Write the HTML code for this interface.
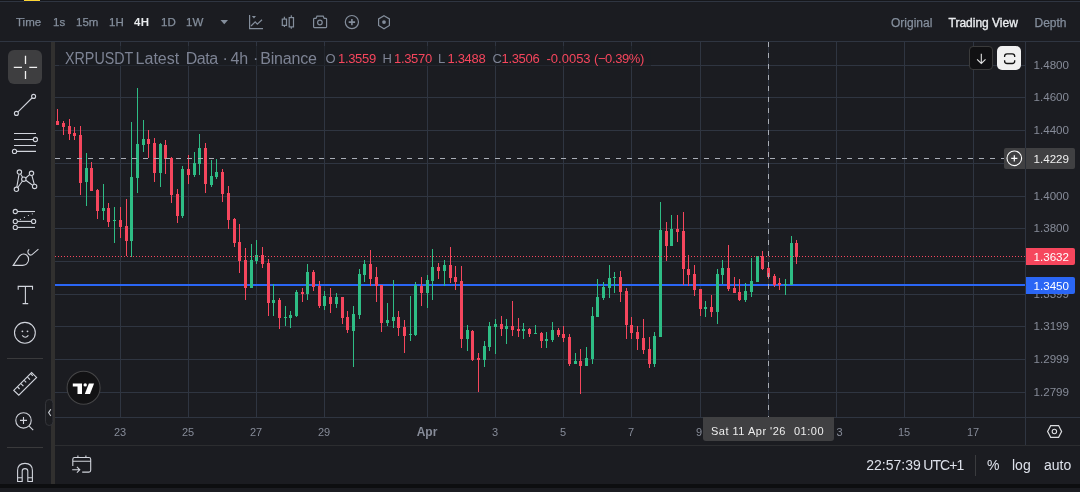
<!DOCTYPE html>
<html><head><meta charset="utf-8"><style>
*{margin:0;padding:0;box-sizing:border-box}
html,body{width:1080px;height:492px;overflow:hidden;background:#1b1c21}
body{position:relative;font-family:"Liberation Sans",sans-serif}
.abs{position:absolute}
.tb{position:absolute;top:15px;font-size:11.5px;color:#848e9c;line-height:14px;white-space:nowrap;-webkit-text-stroke:0.25px #848e9c}
.pl{position:absolute;left:1026px;width:50px;text-align:right;padding-right:11px;width:54px;font-size:11.6px;line-height:16px;color:#868b98;letter-spacing:0px}
.lg{position:absolute;top:51px;font-size:13px;line-height:16px;letter-spacing:-0.33px;white-space:pre}
.tt{position:absolute;top:49px;font-size:16px;line-height:20px;color:#7d8394;white-space:nowrap}
.bt{position:absolute;top:457px;font-size:14px;line-height:16px;color:#dde1ea;white-space:nowrap}
.tl{position:absolute;top:424px;width:60px;text-align:center;font-size:11px;line-height:16px;color:#868b98}
.tl.b{font-weight:bold;font-size:12px}
</style></head><body>
<!-- top strip -->
<div class="abs" style="left:0;top:0;width:1080px;height:1px;background:#16171b"></div>
<div class="abs" style="left:0;top:1px;width:1080px;height:1px;background:#2f3541"></div>
<div class="abs" style="left:24px;top:0;width:16px;height:1px;background:#fcd535"></div>
<div class="abs" style="left:24px;top:1px;width:16px;height:1px;background:#1c2038"></div>
<!-- toolbar line -->
<div class="abs" style="left:0;top:41px;width:1080px;height:1px;background:#2f3541"></div>
<!-- toolbar texts -->
<div class="tb" style="left:16px">Time</div>
<div class="tb" style="left:53px">1s</div>
<div class="tb" style="left:76px">15m</div>
<div class="tb" style="left:109px">1H</div>
<div class="tb" style="left:134px;color:#eaecef;font-weight:bold;letter-spacing:0.4px;-webkit-text-stroke:0">4H</div>
<div class="tb" style="left:161px">1D</div>
<div class="tb" style="left:186px">1W</div>
<svg class="abs" style="left:0;top:0" width="400" height="41">
 <path d="M220.5 20 L228 20 L224.25 24.3 Z" fill="#848e9c"/>
 <g fill="none" stroke="#848e9c" stroke-width="1.2">
  <path d="M249.6 15 V28.6 H263"/>
  <path d="M251 26 L255.2 21.8 L257.3 24.2 L262 19.8"/>
  <rect x="282.3" y="19.1" width="4.2" height="6.3"/>
  <path d="M284.4 16.8 V19.1 M284.4 25.4 V27"/>
  <rect x="289.2" y="17.6" width="4.3" height="9.3"/>
  <path d="M291.3 15.3 V17.6 M291.3 26.9 V28.8"/>
  <path d="M313.6 19.2 Q313.6 18.4 314.4 18.4 H316 L317 16.2 H323.2 L324.2 18.4 H325.8 Q326.6 18.4 326.6 19.2 V26.8 Q326.6 27.6 325.8 27.6 H314.4 Q313.6 27.6 313.6 26.8 Z"/>
  <circle cx="319.9" cy="22.5" r="2.3"/>
  <circle cx="351.9" cy="22.1" r="6.6"/>
  <path d="M348.7 22.1 H355.1 M351.9 18.9 V25.3" stroke-width="1.6"/>
  <path d="M384 15.7 L389.4 18.9 V25.5 L384 28.7 L378.6 25.5 V18.9 Z"/>
 </g>
 <path d="M251.9 16.1 H256 L253.95 18.4 Z" fill="#848e9c"/>
 <circle cx="384" cy="22.1" r="1.9" fill="#848e9c"/>
</svg>
<div class="tb" style="left:891px;top:15.7px;font-size:12px">Original</div>
<div class="tb" style="left:948.5px;top:15.7px;font-size:12px;color:#eaecef;-webkit-text-stroke:0.35px #eaecef">Trading View</div>
<div class="tb" style="left:1034.5px;top:15.7px;font-size:12px">Depth</div>

<!-- left toolbar -->
<div class="abs" style="left:51px;top:42px;width:4px;height:442px;background:#31302f"></div>
<div class="abs" style="left:8px;top:50px;width:34px;height:34px;border-radius:6px;background:#3e3e40"></div>
<div class="abs" style="left:7px;top:358px;width:36px;height:1px;background:#3a3a3c"></div>
<div class="abs" style="left:7px;top:447px;width:36px;height:1px;background:#3a3a3c"></div>
<svg class="abs" style="left:0;top:0" width="55" height="492">
 <g fill="none" stroke="#d1d4dc" stroke-width="1.1">
  <path d="M25.5 55.8 V64 M25.5 71 V79 M13.8 67.4 H22 M29.3 67.4 H37.1" stroke="#f0f0f0" stroke-width="1.3"/>
  <circle cx="33.6" cy="96.4" r="2"/><circle cx="16.4" cy="113.4" r="2"/>
  <path d="M18 111.8 L32 98"/>
  <path d="M14 133.5 H36 M14 139.5 H33.3 M14 145.5 H36 M16.6 151.4 H36"/>
  <circle cx="35.4" cy="139.5" r="2.1"/><circle cx="14.5" cy="151.4" r="2.1"/>
  <circle cx="16.4" cy="189.3" r="2.2"/><circle cx="19.4" cy="172.1" r="2.2"/><circle cx="23.8" cy="179.2" r="2.2"/><circle cx="31.5" cy="173.3" r="2.2"/><circle cx="34.6" cy="186.4" r="2.2"/>
  <path d="M16.8 187.1 L19 174.3 M17.8 187.5 L22.5 181 M20.6 174 L22.6 177.3 M25.7 178 L29.6 174.6 M31.9 175.5 L34.2 184.2 M25.8 180.3 L32.6 185.2"/>
  <circle cx="15.3" cy="211.5" r="2.1"/><path d="M17.4 211.5 H35"/>
  <circle cx="15.3" cy="221.4" r="2.1"/><circle cx="33.6" cy="221.4" r="2.1"/><path d="M17.4 221.4 H31.5"/>
  <circle cx="15.3" cy="227.4" r="2.1"/><path d="M17.4 227.4 H35"/>
  <path d="M13.2 265.4 L19.4 256.2 Q22.8 252.6 26.6 255 Q29.4 257.4 28.2 261.4 Q26.8 265.2 22.6 265.4 Z"/>
  <path d="M29.2 249.4 Q27.2 251 28.2 253.4 Q29.6 255.8 31.8 254.8 L38.4 249.2"/>
  <path d="M18.2 289.8 V286.4 H32.5 V289.8 M25.4 286.4 V303.6 M22.6 303.6 H28.2"/>
  <circle cx="24.9" cy="332.8" r="10.4"/>
  <path d="M22.2 335.3 Q25.3 339.2 28.4 335.3"/>
  <path d="M13.8 390.4 L31.6 372.6 L36.6 377.4 L18.8 395.2 Z"/>
  <path d="M17.6 387 L19.6 389 M20.9 383.7 L23.4 386.2 M24.2 380.4 L26.2 382.4 M27.5 377.1 L30 379.6 M30.8 373.8 L32.8 375.8"/>
  <circle cx="23.5" cy="420.4" r="7.7"/>
  <path d="M20 420.4 H27 M23.5 416.9 V423.9 M29.2 426.2 L33.2 430.2"/>
  <path d="M17.6 481.5 V470.6 Q17.6 463.4 25 463.4 Q32.4 463.4 32.4 470.6 V481.5 H27.8 V471 Q27.8 468.6 25 468.6 Q22.2 468.6 22.2 471 V481.5 Z M17.6 477.8 H22.2 M27.8 477.8 H32.4"/>
 </g>
 <circle cx="22.4" cy="331.3" r="0.9" fill="#d1d4dc"/><circle cx="27.5" cy="331.3" r="0.9" fill="#d1d4dc"/>
 <g fill="#d1d4dc"><circle cx="20.4" cy="219.3" r="0.6"/><circle cx="24.4" cy="217.4" r="0.6"/><circle cx="28.4" cy="215.5" r="0.6"/><circle cx="32.3" cy="213.8" r="0.6"/></g>
 <rect x="45.5" y="399.5" width="7.5" height="26" rx="3.75" fill="#1c1d21" stroke="#34353a" stroke-width="1"/>
 <path d="M50.8 409.2 L48.6 412.6 L50.8 416" fill="none" stroke="#c9ccd3" stroke-width="1.1"/>
</svg>

<!-- chart -->
<svg class="abs" style="left:0;top:0" width="1080" height="492" shape-rendering="crispEdges">
<rect x="55" y="65" width="970" height="1" fill="#2f3541"/><rect x="55" y="97" width="970" height="1" fill="#2f3541"/><rect x="55" y="130" width="970" height="1" fill="#2f3541"/><rect x="55" y="163" width="970" height="1" fill="#2f3541"/><rect x="55" y="196" width="970" height="1" fill="#2f3541"/><rect x="55" y="228" width="970" height="1" fill="#2f3541"/><rect x="55" y="261" width="970" height="1" fill="#2f3541"/><rect x="55" y="294" width="970" height="1" fill="#2f3541"/><rect x="55" y="326" width="970" height="1" fill="#2f3541"/><rect x="55" y="359" width="970" height="1" fill="#2f3541"/><rect x="55" y="392" width="970" height="1" fill="#2f3541"/><rect x="120" y="42" width="1" height="375" fill="#2f3541"/><rect x="188" y="42" width="1" height="375" fill="#2f3541"/><rect x="256" y="42" width="1" height="375" fill="#2f3541"/><rect x="324" y="42" width="1" height="375" fill="#2f3541"/><rect x="427" y="42" width="1" height="375" fill="#2f3541"/><rect x="495" y="42" width="1" height="375" fill="#2f3541"/><rect x="563" y="42" width="1" height="375" fill="#2f3541"/><rect x="631" y="42" width="1" height="375" fill="#2f3541"/><rect x="700" y="42" width="1" height="375" fill="#2f3541"/><rect x="768" y="42" width="1" height="375" fill="#2f3541"/><rect x="836" y="42" width="1" height="375" fill="#2f3541"/><rect x="904" y="42" width="1" height="375" fill="#2f3541"/><rect x="973" y="42" width="1" height="375" fill="#2f3541"/>
<rect x="55" y="417" width="1025" height="1" fill="#2f3541"/>
<rect x="1025" y="42" width="1" height="403" fill="#2f3541"/>
<rect x="55" y="445" width="1025" height="1" fill="#2c2d30"/>
<rect x="55" y="284" width="970" height="2" fill="#2a66f5"/>
<rect x="57" y="109" width="1" height="16" fill="#f6465d"/>
<rect x="56" y="121" width="3" height="4" fill="#f6465d"/>
<rect x="63" y="121" width="1" height="14" fill="#f6465d"/>
<rect x="62" y="123" width="3" height="4" fill="#f6465d"/>
<rect x="69" y="119" width="1" height="21" fill="#f6465d"/>
<rect x="68" y="126" width="3" height="8" fill="#f6465d"/>
<rect x="74" y="127" width="1" height="13" fill="#f6465d"/>
<rect x="73" y="133" width="3" height="3" fill="#f6465d"/>
<rect x="80" y="126" width="1" height="69" fill="#f6465d"/>
<rect x="79" y="135" width="3" height="48" fill="#f6465d"/>
<rect x="86" y="153" width="1" height="53" fill="#2ebd85"/>
<rect x="85" y="168" width="3" height="14" fill="#2ebd85"/>
<rect x="91" y="162" width="1" height="29" fill="#f6465d"/>
<rect x="90" y="168" width="3" height="23" fill="#f6465d"/>
<rect x="97" y="189" width="1" height="30" fill="#f6465d"/>
<rect x="96" y="190" width="3" height="21" fill="#f6465d"/>
<rect x="103" y="184" width="1" height="36" fill="#2ebd85"/>
<rect x="102" y="208" width="3" height="3" fill="#2ebd85"/>
<rect x="108" y="203" width="1" height="24" fill="#f6465d"/>
<rect x="107" y="208" width="3" height="14" fill="#f6465d"/>
<rect x="114" y="207" width="1" height="36" fill="#2ebd85"/>
<rect x="113" y="220" width="3" height="1" fill="#2ebd85"/>
<rect x="120" y="207" width="1" height="31" fill="#f6465d"/>
<rect x="119" y="220" width="3" height="7" fill="#f6465d"/>
<rect x="126" y="199" width="1" height="57" fill="#f6465d"/>
<rect x="125" y="226" width="3" height="15" fill="#f6465d"/>
<rect x="131" y="122" width="1" height="135" fill="#2ebd85"/>
<rect x="130" y="177" width="3" height="64" fill="#2ebd85"/>
<rect x="137" y="88" width="1" height="105" fill="#2ebd85"/>
<rect x="136" y="144" width="3" height="34" fill="#2ebd85"/>
<rect x="143" y="120" width="1" height="32" fill="#2ebd85"/>
<rect x="142" y="139" width="3" height="6" fill="#2ebd85"/>
<rect x="148" y="130" width="1" height="28" fill="#f6465d"/>
<rect x="147" y="139" width="3" height="5" fill="#f6465d"/>
<rect x="154" y="138" width="1" height="44" fill="#f6465d"/>
<rect x="153" y="143" width="3" height="30" fill="#f6465d"/>
<rect x="160" y="143" width="1" height="44" fill="#2ebd85"/>
<rect x="159" y="144" width="3" height="29" fill="#2ebd85"/>
<rect x="165" y="140" width="1" height="34" fill="#f6465d"/>
<rect x="164" y="145" width="3" height="14" fill="#f6465d"/>
<rect x="171" y="157" width="1" height="46" fill="#f6465d"/>
<rect x="170" y="158" width="3" height="37" fill="#f6465d"/>
<rect x="177" y="189" width="1" height="34" fill="#f6465d"/>
<rect x="176" y="194" width="3" height="22" fill="#f6465d"/>
<rect x="182" y="166" width="1" height="52" fill="#2ebd85"/>
<rect x="181" y="169" width="3" height="47" fill="#2ebd85"/>
<rect x="188" y="155" width="1" height="29" fill="#f6465d"/>
<rect x="187" y="169" width="3" height="6" fill="#f6465d"/>
<rect x="194" y="152" width="1" height="25" fill="#2ebd85"/>
<rect x="193" y="163" width="3" height="12" fill="#2ebd85"/>
<rect x="199" y="134" width="1" height="41" fill="#2ebd85"/>
<rect x="198" y="148" width="3" height="16" fill="#2ebd85"/>
<rect x="205" y="143" width="1" height="50" fill="#f6465d"/>
<rect x="204" y="148" width="3" height="36" fill="#f6465d"/>
<rect x="211" y="160" width="1" height="27" fill="#2ebd85"/>
<rect x="210" y="176" width="3" height="9" fill="#2ebd85"/>
<rect x="216" y="159" width="1" height="20" fill="#2ebd85"/>
<rect x="215" y="172" width="3" height="5" fill="#2ebd85"/>
<rect x="222" y="169" width="1" height="33" fill="#f6465d"/>
<rect x="221" y="172" width="3" height="22" fill="#f6465d"/>
<rect x="228" y="186" width="1" height="43" fill="#f6465d"/>
<rect x="227" y="193" width="3" height="27" fill="#f6465d"/>
<rect x="234" y="218" width="1" height="29" fill="#f6465d"/>
<rect x="233" y="219" width="3" height="24" fill="#f6465d"/>
<rect x="239" y="224" width="1" height="49" fill="#f6465d"/>
<rect x="238" y="242" width="3" height="19" fill="#f6465d"/>
<rect x="245" y="248" width="1" height="52" fill="#f6465d"/>
<rect x="244" y="260" width="3" height="28" fill="#f6465d"/>
<rect x="251" y="244" width="1" height="44" fill="#2ebd85"/>
<rect x="250" y="260" width="3" height="28" fill="#2ebd85"/>
<rect x="256" y="240" width="1" height="24" fill="#2ebd85"/>
<rect x="255" y="255" width="3" height="6" fill="#2ebd85"/>
<rect x="262" y="247" width="1" height="21" fill="#f6465d"/>
<rect x="261" y="255" width="3" height="9" fill="#f6465d"/>
<rect x="268" y="259" width="1" height="57" fill="#f6465d"/>
<rect x="267" y="263" width="3" height="40" fill="#f6465d"/>
<rect x="273" y="284" width="1" height="32" fill="#2ebd85"/>
<rect x="272" y="300" width="3" height="3" fill="#2ebd85"/>
<rect x="279" y="298" width="1" height="31" fill="#f6465d"/>
<rect x="278" y="300" width="3" height="18" fill="#f6465d"/>
<rect x="285" y="306" width="1" height="20" fill="#2ebd85"/>
<rect x="284" y="317" width="3" height="1" fill="#2ebd85"/>
<rect x="290" y="311" width="1" height="17" fill="#2ebd85"/>
<rect x="289" y="315" width="3" height="3" fill="#2ebd85"/>
<rect x="296" y="290" width="1" height="27" fill="#2ebd85"/>
<rect x="295" y="292" width="3" height="24" fill="#2ebd85"/>
<rect x="302" y="288" width="1" height="14" fill="#f6465d"/>
<rect x="301" y="292" width="3" height="2" fill="#f6465d"/>
<rect x="307" y="264" width="1" height="36" fill="#2ebd85"/>
<rect x="306" y="272" width="3" height="22" fill="#2ebd85"/>
<rect x="313" y="270" width="1" height="21" fill="#f6465d"/>
<rect x="312" y="272" width="3" height="15" fill="#f6465d"/>
<rect x="319" y="281" width="1" height="27" fill="#f6465d"/>
<rect x="318" y="286" width="3" height="20" fill="#f6465d"/>
<rect x="324" y="291" width="1" height="19" fill="#2ebd85"/>
<rect x="323" y="296" width="3" height="10" fill="#2ebd85"/>
<rect x="330" y="288" width="1" height="25" fill="#f6465d"/>
<rect x="329" y="297" width="3" height="7" fill="#f6465d"/>
<rect x="336" y="293" width="1" height="15" fill="#2ebd85"/>
<rect x="335" y="297" width="3" height="7" fill="#2ebd85"/>
<rect x="342" y="297" width="1" height="27" fill="#f6465d"/>
<rect x="341" y="297" width="3" height="21" fill="#f6465d"/>
<rect x="347" y="311" width="1" height="22" fill="#f6465d"/>
<rect x="346" y="317" width="3" height="13" fill="#f6465d"/>
<rect x="353" y="306" width="1" height="61" fill="#2ebd85"/>
<rect x="352" y="314" width="3" height="17" fill="#2ebd85"/>
<rect x="359" y="269" width="1" height="50" fill="#2ebd85"/>
<rect x="358" y="274" width="3" height="41" fill="#2ebd85"/>
<rect x="364" y="260" width="1" height="22" fill="#2ebd85"/>
<rect x="363" y="264" width="3" height="11" fill="#2ebd85"/>
<rect x="370" y="250" width="1" height="36" fill="#f6465d"/>
<rect x="369" y="264" width="3" height="15" fill="#f6465d"/>
<rect x="376" y="267" width="1" height="35" fill="#f6465d"/>
<rect x="375" y="277" width="3" height="9" fill="#f6465d"/>
<rect x="381" y="285" width="1" height="47" fill="#f6465d"/>
<rect x="380" y="285" width="3" height="38" fill="#f6465d"/>
<rect x="387" y="303" width="1" height="23" fill="#2ebd85"/>
<rect x="386" y="320" width="3" height="3" fill="#2ebd85"/>
<rect x="393" y="280" width="1" height="48" fill="#2ebd85"/>
<rect x="392" y="317" width="3" height="4" fill="#2ebd85"/>
<rect x="398" y="311" width="1" height="25" fill="#f6465d"/>
<rect x="397" y="317" width="3" height="11" fill="#f6465d"/>
<rect x="404" y="320" width="1" height="33" fill="#f6465d"/>
<rect x="403" y="327" width="3" height="9" fill="#f6465d"/>
<rect x="410" y="296" width="1" height="45" fill="#2ebd85"/>
<rect x="409" y="334" width="3" height="1" fill="#2ebd85"/>
<rect x="415" y="282" width="1" height="54" fill="#2ebd85"/>
<rect x="414" y="285" width="3" height="50" fill="#2ebd85"/>
<rect x="421" y="277" width="1" height="29" fill="#f6465d"/>
<rect x="420" y="286" width="3" height="7" fill="#f6465d"/>
<rect x="427" y="275" width="1" height="33" fill="#2ebd85"/>
<rect x="426" y="280" width="3" height="13" fill="#2ebd85"/>
<rect x="432" y="249" width="1" height="51" fill="#2ebd85"/>
<rect x="431" y="267" width="3" height="14" fill="#2ebd85"/>
<rect x="438" y="263" width="1" height="16" fill="#f6465d"/>
<rect x="437" y="267" width="3" height="4" fill="#f6465d"/>
<rect x="444" y="260" width="1" height="26" fill="#2ebd85"/>
<rect x="443" y="265" width="3" height="6" fill="#2ebd85"/>
<rect x="450" y="247" width="1" height="36" fill="#f6465d"/>
<rect x="449" y="265" width="3" height="13" fill="#f6465d"/>
<rect x="455" y="266" width="1" height="24" fill="#f6465d"/>
<rect x="454" y="277" width="3" height="5" fill="#f6465d"/>
<rect x="461" y="266" width="1" height="82" fill="#f6465d"/>
<rect x="460" y="281" width="3" height="58" fill="#f6465d"/>
<rect x="467" y="325" width="1" height="26" fill="#2ebd85"/>
<rect x="466" y="330" width="3" height="9" fill="#2ebd85"/>
<rect x="472" y="330" width="1" height="31" fill="#f6465d"/>
<rect x="471" y="331" width="3" height="29" fill="#f6465d"/>
<rect x="478" y="353" width="1" height="39" fill="#f6465d"/>
<rect x="477" y="358" width="3" height="2" fill="#f6465d"/>
<rect x="484" y="341" width="1" height="26" fill="#2ebd85"/>
<rect x="483" y="346" width="3" height="14" fill="#2ebd85"/>
<rect x="489" y="322" width="1" height="29" fill="#2ebd85"/>
<rect x="488" y="326" width="3" height="21" fill="#2ebd85"/>
<rect x="495" y="319" width="1" height="35" fill="#2ebd85"/>
<rect x="494" y="324" width="3" height="3" fill="#2ebd85"/>
<rect x="501" y="316" width="1" height="20" fill="#f6465d"/>
<rect x="500" y="324" width="3" height="5" fill="#f6465d"/>
<rect x="506" y="319" width="1" height="25" fill="#2ebd85"/>
<rect x="505" y="326" width="3" height="3" fill="#2ebd85"/>
<rect x="512" y="301" width="1" height="35" fill="#f6465d"/>
<rect x="511" y="326" width="3" height="4" fill="#f6465d"/>
<rect x="518" y="318" width="1" height="19" fill="#f6465d"/>
<rect x="517" y="329" width="3" height="2" fill="#f6465d"/>
<rect x="523" y="323" width="1" height="16" fill="#2ebd85"/>
<rect x="522" y="329" width="3" height="2" fill="#2ebd85"/>
<rect x="529" y="328" width="1" height="9" fill="#f6465d"/>
<rect x="528" y="329" width="3" height="5" fill="#f6465d"/>
<rect x="535" y="325" width="1" height="9" fill="#2ebd85"/>
<rect x="534" y="333" width="3" height="1" fill="#2ebd85"/>
<rect x="541" y="332" width="1" height="16" fill="#f6465d"/>
<rect x="540" y="333" width="3" height="8" fill="#f6465d"/>
<rect x="546" y="332" width="1" height="16" fill="#2ebd85"/>
<rect x="545" y="339" width="3" height="2" fill="#2ebd85"/>
<rect x="552" y="322" width="1" height="20" fill="#2ebd85"/>
<rect x="551" y="330" width="3" height="10" fill="#2ebd85"/>
<rect x="558" y="328" width="1" height="9" fill="#f6465d"/>
<rect x="557" y="330" width="3" height="5" fill="#f6465d"/>
<rect x="563" y="326" width="1" height="16" fill="#f6465d"/>
<rect x="562" y="334" width="3" height="4" fill="#f6465d"/>
<rect x="569" y="334" width="1" height="32" fill="#f6465d"/>
<rect x="568" y="337" width="3" height="27" fill="#f6465d"/>
<rect x="575" y="353" width="1" height="11" fill="#2ebd85"/>
<rect x="574" y="361" width="3" height="3" fill="#2ebd85"/>
<rect x="580" y="349" width="1" height="45" fill="#f6465d"/>
<rect x="579" y="361" width="3" height="5" fill="#f6465d"/>
<rect x="586" y="347" width="1" height="19" fill="#2ebd85"/>
<rect x="585" y="358" width="3" height="8" fill="#2ebd85"/>
<rect x="592" y="307" width="1" height="57" fill="#2ebd85"/>
<rect x="591" y="316" width="3" height="43" fill="#2ebd85"/>
<rect x="597" y="279" width="1" height="38" fill="#2ebd85"/>
<rect x="596" y="297" width="3" height="20" fill="#2ebd85"/>
<rect x="603" y="282" width="1" height="18" fill="#2ebd85"/>
<rect x="602" y="287" width="3" height="11" fill="#2ebd85"/>
<rect x="609" y="265" width="1" height="33" fill="#2ebd85"/>
<rect x="608" y="278" width="3" height="10" fill="#2ebd85"/>
<rect x="614" y="272" width="1" height="21" fill="#2ebd85"/>
<rect x="613" y="277" width="3" height="1" fill="#2ebd85"/>
<rect x="620" y="271" width="1" height="31" fill="#f6465d"/>
<rect x="619" y="277" width="3" height="15" fill="#f6465d"/>
<rect x="626" y="288" width="1" height="51" fill="#f6465d"/>
<rect x="625" y="291" width="3" height="34" fill="#f6465d"/>
<rect x="631" y="317" width="1" height="22" fill="#f6465d"/>
<rect x="630" y="325" width="3" height="8" fill="#f6465d"/>
<rect x="637" y="326" width="1" height="24" fill="#f6465d"/>
<rect x="636" y="332" width="3" height="7" fill="#f6465d"/>
<rect x="643" y="319" width="1" height="35" fill="#f6465d"/>
<rect x="642" y="338" width="3" height="12" fill="#f6465d"/>
<rect x="649" y="337" width="1" height="31" fill="#f6465d"/>
<rect x="648" y="349" width="3" height="15" fill="#f6465d"/>
<rect x="654" y="332" width="1" height="35" fill="#2ebd85"/>
<rect x="653" y="336" width="3" height="28" fill="#2ebd85"/>
<rect x="660" y="202" width="1" height="135" fill="#2ebd85"/>
<rect x="659" y="230" width="3" height="107" fill="#2ebd85"/>
<rect x="666" y="222" width="1" height="39" fill="#f6465d"/>
<rect x="665" y="231" width="3" height="15" fill="#f6465d"/>
<rect x="671" y="215" width="1" height="31" fill="#2ebd85"/>
<rect x="670" y="229" width="3" height="17" fill="#2ebd85"/>
<rect x="677" y="215" width="1" height="27" fill="#f6465d"/>
<rect x="676" y="229" width="3" height="3" fill="#f6465d"/>
<rect x="683" y="212" width="1" height="73" fill="#f6465d"/>
<rect x="682" y="231" width="3" height="38" fill="#f6465d"/>
<rect x="688" y="255" width="1" height="31" fill="#f6465d"/>
<rect x="687" y="269" width="3" height="6" fill="#f6465d"/>
<rect x="694" y="265" width="1" height="31" fill="#f6465d"/>
<rect x="693" y="274" width="3" height="16" fill="#f6465d"/>
<rect x="700" y="289" width="1" height="27" fill="#f6465d"/>
<rect x="699" y="289" width="3" height="20" fill="#f6465d"/>
<rect x="705" y="301" width="1" height="16" fill="#2ebd85"/>
<rect x="704" y="307" width="3" height="2" fill="#2ebd85"/>
<rect x="711" y="295" width="1" height="22" fill="#f6465d"/>
<rect x="710" y="307" width="3" height="5" fill="#f6465d"/>
<rect x="717" y="269" width="1" height="55" fill="#2ebd85"/>
<rect x="716" y="274" width="3" height="38" fill="#2ebd85"/>
<rect x="722" y="260" width="1" height="24" fill="#2ebd85"/>
<rect x="721" y="268" width="3" height="7" fill="#2ebd85"/>
<rect x="728" y="245" width="1" height="46" fill="#f6465d"/>
<rect x="727" y="268" width="3" height="21" fill="#f6465d"/>
<rect x="734" y="277" width="1" height="16" fill="#f6465d"/>
<rect x="733" y="288" width="3" height="5" fill="#f6465d"/>
<rect x="739" y="279" width="1" height="22" fill="#f6465d"/>
<rect x="738" y="292" width="3" height="8" fill="#f6465d"/>
<rect x="745" y="283" width="1" height="19" fill="#2ebd85"/>
<rect x="744" y="291" width="3" height="9" fill="#2ebd85"/>
<rect x="751" y="258" width="1" height="39" fill="#2ebd85"/>
<rect x="750" y="281" width="3" height="11" fill="#2ebd85"/>
<rect x="757" y="256" width="1" height="26" fill="#2ebd85"/>
<rect x="756" y="256" width="3" height="26" fill="#2ebd85"/>
<rect x="762" y="251" width="1" height="19" fill="#f6465d"/>
<rect x="761" y="256" width="3" height="13" fill="#f6465d"/>
<rect x="768" y="267" width="1" height="12" fill="#f6465d"/>
<rect x="767" y="268" width="3" height="9" fill="#f6465d"/>
<rect x="774" y="274" width="1" height="13" fill="#f6465d"/>
<rect x="773" y="276" width="3" height="9" fill="#f6465d"/>
<rect x="779" y="278" width="1" height="12" fill="#f6465d"/>
<rect x="778" y="283" width="3" height="2" fill="#f6465d"/>
<rect x="785" y="279" width="1" height="16" fill="#2ebd85"/>
<rect x="784" y="284" width="3" height="1" fill="#2ebd85"/>
<rect x="791" y="236" width="1" height="49" fill="#2ebd85"/>
<rect x="790" y="243" width="3" height="42" fill="#2ebd85"/>
<rect x="796" y="240" width="1" height="24" fill="#f6465d"/>
<rect x="795" y="243" width="3" height="14" fill="#f6465d"/>
<rect x="55" y="256" width="1" height="1" fill="#f6465d"/><rect x="58" y="256" width="1" height="1" fill="#f6465d"/><rect x="61" y="256" width="1" height="1" fill="#f6465d"/><rect x="64" y="256" width="1" height="1" fill="#f6465d"/><rect x="67" y="256" width="1" height="1" fill="#f6465d"/><rect x="70" y="256" width="1" height="1" fill="#f6465d"/><rect x="73" y="256" width="1" height="1" fill="#f6465d"/><rect x="76" y="256" width="1" height="1" fill="#f6465d"/><rect x="79" y="256" width="1" height="1" fill="#f6465d"/><rect x="82" y="256" width="1" height="1" fill="#f6465d"/><rect x="85" y="256" width="1" height="1" fill="#f6465d"/><rect x="88" y="256" width="1" height="1" fill="#f6465d"/><rect x="91" y="256" width="1" height="1" fill="#f6465d"/><rect x="94" y="256" width="1" height="1" fill="#f6465d"/><rect x="97" y="256" width="1" height="1" fill="#f6465d"/><rect x="100" y="256" width="1" height="1" fill="#f6465d"/><rect x="103" y="256" width="1" height="1" fill="#f6465d"/><rect x="106" y="256" width="1" height="1" fill="#f6465d"/><rect x="109" y="256" width="1" height="1" fill="#f6465d"/><rect x="112" y="256" width="1" height="1" fill="#f6465d"/><rect x="115" y="256" width="1" height="1" fill="#f6465d"/><rect x="118" y="256" width="1" height="1" fill="#f6465d"/><rect x="121" y="256" width="1" height="1" fill="#f6465d"/><rect x="124" y="256" width="1" height="1" fill="#f6465d"/><rect x="127" y="256" width="1" height="1" fill="#f6465d"/><rect x="130" y="256" width="1" height="1" fill="#f6465d"/><rect x="133" y="256" width="1" height="1" fill="#f6465d"/><rect x="136" y="256" width="1" height="1" fill="#f6465d"/><rect x="139" y="256" width="1" height="1" fill="#f6465d"/><rect x="142" y="256" width="1" height="1" fill="#f6465d"/><rect x="145" y="256" width="1" height="1" fill="#f6465d"/><rect x="148" y="256" width="1" height="1" fill="#f6465d"/><rect x="151" y="256" width="1" height="1" fill="#f6465d"/><rect x="154" y="256" width="1" height="1" fill="#f6465d"/><rect x="157" y="256" width="1" height="1" fill="#f6465d"/><rect x="160" y="256" width="1" height="1" fill="#f6465d"/><rect x="163" y="256" width="1" height="1" fill="#f6465d"/><rect x="166" y="256" width="1" height="1" fill="#f6465d"/><rect x="169" y="256" width="1" height="1" fill="#f6465d"/><rect x="172" y="256" width="1" height="1" fill="#f6465d"/><rect x="175" y="256" width="1" height="1" fill="#f6465d"/><rect x="178" y="256" width="1" height="1" fill="#f6465d"/><rect x="181" y="256" width="1" height="1" fill="#f6465d"/><rect x="184" y="256" width="1" height="1" fill="#f6465d"/><rect x="187" y="256" width="1" height="1" fill="#f6465d"/><rect x="190" y="256" width="1" height="1" fill="#f6465d"/><rect x="193" y="256" width="1" height="1" fill="#f6465d"/><rect x="196" y="256" width="1" height="1" fill="#f6465d"/><rect x="199" y="256" width="1" height="1" fill="#f6465d"/><rect x="202" y="256" width="1" height="1" fill="#f6465d"/><rect x="205" y="256" width="1" height="1" fill="#f6465d"/><rect x="208" y="256" width="1" height="1" fill="#f6465d"/><rect x="211" y="256" width="1" height="1" fill="#f6465d"/><rect x="214" y="256" width="1" height="1" fill="#f6465d"/><rect x="217" y="256" width="1" height="1" fill="#f6465d"/><rect x="220" y="256" width="1" height="1" fill="#f6465d"/><rect x="223" y="256" width="1" height="1" fill="#f6465d"/><rect x="226" y="256" width="1" height="1" fill="#f6465d"/><rect x="229" y="256" width="1" height="1" fill="#f6465d"/><rect x="232" y="256" width="1" height="1" fill="#f6465d"/><rect x="235" y="256" width="1" height="1" fill="#f6465d"/><rect x="238" y="256" width="1" height="1" fill="#f6465d"/><rect x="241" y="256" width="1" height="1" fill="#f6465d"/><rect x="244" y="256" width="1" height="1" fill="#f6465d"/><rect x="247" y="256" width="1" height="1" fill="#f6465d"/><rect x="250" y="256" width="1" height="1" fill="#f6465d"/><rect x="253" y="256" width="1" height="1" fill="#f6465d"/><rect x="256" y="256" width="1" height="1" fill="#f6465d"/><rect x="259" y="256" width="1" height="1" fill="#f6465d"/><rect x="262" y="256" width="1" height="1" fill="#f6465d"/><rect x="265" y="256" width="1" height="1" fill="#f6465d"/><rect x="268" y="256" width="1" height="1" fill="#f6465d"/><rect x="271" y="256" width="1" height="1" fill="#f6465d"/><rect x="274" y="256" width="1" height="1" fill="#f6465d"/><rect x="277" y="256" width="1" height="1" fill="#f6465d"/><rect x="280" y="256" width="1" height="1" fill="#f6465d"/><rect x="283" y="256" width="1" height="1" fill="#f6465d"/><rect x="286" y="256" width="1" height="1" fill="#f6465d"/><rect x="289" y="256" width="1" height="1" fill="#f6465d"/><rect x="292" y="256" width="1" height="1" fill="#f6465d"/><rect x="295" y="256" width="1" height="1" fill="#f6465d"/><rect x="298" y="256" width="1" height="1" fill="#f6465d"/><rect x="301" y="256" width="1" height="1" fill="#f6465d"/><rect x="304" y="256" width="1" height="1" fill="#f6465d"/><rect x="307" y="256" width="1" height="1" fill="#f6465d"/><rect x="310" y="256" width="1" height="1" fill="#f6465d"/><rect x="313" y="256" width="1" height="1" fill="#f6465d"/><rect x="316" y="256" width="1" height="1" fill="#f6465d"/><rect x="319" y="256" width="1" height="1" fill="#f6465d"/><rect x="322" y="256" width="1" height="1" fill="#f6465d"/><rect x="325" y="256" width="1" height="1" fill="#f6465d"/><rect x="328" y="256" width="1" height="1" fill="#f6465d"/><rect x="331" y="256" width="1" height="1" fill="#f6465d"/><rect x="334" y="256" width="1" height="1" fill="#f6465d"/><rect x="337" y="256" width="1" height="1" fill="#f6465d"/><rect x="340" y="256" width="1" height="1" fill="#f6465d"/><rect x="343" y="256" width="1" height="1" fill="#f6465d"/><rect x="346" y="256" width="1" height="1" fill="#f6465d"/><rect x="349" y="256" width="1" height="1" fill="#f6465d"/><rect x="352" y="256" width="1" height="1" fill="#f6465d"/><rect x="355" y="256" width="1" height="1" fill="#f6465d"/><rect x="358" y="256" width="1" height="1" fill="#f6465d"/><rect x="361" y="256" width="1" height="1" fill="#f6465d"/><rect x="364" y="256" width="1" height="1" fill="#f6465d"/><rect x="367" y="256" width="1" height="1" fill="#f6465d"/><rect x="370" y="256" width="1" height="1" fill="#f6465d"/><rect x="373" y="256" width="1" height="1" fill="#f6465d"/><rect x="376" y="256" width="1" height="1" fill="#f6465d"/><rect x="379" y="256" width="1" height="1" fill="#f6465d"/><rect x="382" y="256" width="1" height="1" fill="#f6465d"/><rect x="385" y="256" width="1" height="1" fill="#f6465d"/><rect x="388" y="256" width="1" height="1" fill="#f6465d"/><rect x="391" y="256" width="1" height="1" fill="#f6465d"/><rect x="394" y="256" width="1" height="1" fill="#f6465d"/><rect x="397" y="256" width="1" height="1" fill="#f6465d"/><rect x="400" y="256" width="1" height="1" fill="#f6465d"/><rect x="403" y="256" width="1" height="1" fill="#f6465d"/><rect x="406" y="256" width="1" height="1" fill="#f6465d"/><rect x="409" y="256" width="1" height="1" fill="#f6465d"/><rect x="412" y="256" width="1" height="1" fill="#f6465d"/><rect x="415" y="256" width="1" height="1" fill="#f6465d"/><rect x="418" y="256" width="1" height="1" fill="#f6465d"/><rect x="421" y="256" width="1" height="1" fill="#f6465d"/><rect x="424" y="256" width="1" height="1" fill="#f6465d"/><rect x="427" y="256" width="1" height="1" fill="#f6465d"/><rect x="430" y="256" width="1" height="1" fill="#f6465d"/><rect x="433" y="256" width="1" height="1" fill="#f6465d"/><rect x="436" y="256" width="1" height="1" fill="#f6465d"/><rect x="439" y="256" width="1" height="1" fill="#f6465d"/><rect x="442" y="256" width="1" height="1" fill="#f6465d"/><rect x="445" y="256" width="1" height="1" fill="#f6465d"/><rect x="448" y="256" width="1" height="1" fill="#f6465d"/><rect x="451" y="256" width="1" height="1" fill="#f6465d"/><rect x="454" y="256" width="1" height="1" fill="#f6465d"/><rect x="457" y="256" width="1" height="1" fill="#f6465d"/><rect x="460" y="256" width="1" height="1" fill="#f6465d"/><rect x="463" y="256" width="1" height="1" fill="#f6465d"/><rect x="466" y="256" width="1" height="1" fill="#f6465d"/><rect x="469" y="256" width="1" height="1" fill="#f6465d"/><rect x="472" y="256" width="1" height="1" fill="#f6465d"/><rect x="475" y="256" width="1" height="1" fill="#f6465d"/><rect x="478" y="256" width="1" height="1" fill="#f6465d"/><rect x="481" y="256" width="1" height="1" fill="#f6465d"/><rect x="484" y="256" width="1" height="1" fill="#f6465d"/><rect x="487" y="256" width="1" height="1" fill="#f6465d"/><rect x="490" y="256" width="1" height="1" fill="#f6465d"/><rect x="493" y="256" width="1" height="1" fill="#f6465d"/><rect x="496" y="256" width="1" height="1" fill="#f6465d"/><rect x="499" y="256" width="1" height="1" fill="#f6465d"/><rect x="502" y="256" width="1" height="1" fill="#f6465d"/><rect x="505" y="256" width="1" height="1" fill="#f6465d"/><rect x="508" y="256" width="1" height="1" fill="#f6465d"/><rect x="511" y="256" width="1" height="1" fill="#f6465d"/><rect x="514" y="256" width="1" height="1" fill="#f6465d"/><rect x="517" y="256" width="1" height="1" fill="#f6465d"/><rect x="520" y="256" width="1" height="1" fill="#f6465d"/><rect x="523" y="256" width="1" height="1" fill="#f6465d"/><rect x="526" y="256" width="1" height="1" fill="#f6465d"/><rect x="529" y="256" width="1" height="1" fill="#f6465d"/><rect x="532" y="256" width="1" height="1" fill="#f6465d"/><rect x="535" y="256" width="1" height="1" fill="#f6465d"/><rect x="538" y="256" width="1" height="1" fill="#f6465d"/><rect x="541" y="256" width="1" height="1" fill="#f6465d"/><rect x="544" y="256" width="1" height="1" fill="#f6465d"/><rect x="547" y="256" width="1" height="1" fill="#f6465d"/><rect x="550" y="256" width="1" height="1" fill="#f6465d"/><rect x="553" y="256" width="1" height="1" fill="#f6465d"/><rect x="556" y="256" width="1" height="1" fill="#f6465d"/><rect x="559" y="256" width="1" height="1" fill="#f6465d"/><rect x="562" y="256" width="1" height="1" fill="#f6465d"/><rect x="565" y="256" width="1" height="1" fill="#f6465d"/><rect x="568" y="256" width="1" height="1" fill="#f6465d"/><rect x="571" y="256" width="1" height="1" fill="#f6465d"/><rect x="574" y="256" width="1" height="1" fill="#f6465d"/><rect x="577" y="256" width="1" height="1" fill="#f6465d"/><rect x="580" y="256" width="1" height="1" fill="#f6465d"/><rect x="583" y="256" width="1" height="1" fill="#f6465d"/><rect x="586" y="256" width="1" height="1" fill="#f6465d"/><rect x="589" y="256" width="1" height="1" fill="#f6465d"/><rect x="592" y="256" width="1" height="1" fill="#f6465d"/><rect x="595" y="256" width="1" height="1" fill="#f6465d"/><rect x="598" y="256" width="1" height="1" fill="#f6465d"/><rect x="601" y="256" width="1" height="1" fill="#f6465d"/><rect x="604" y="256" width="1" height="1" fill="#f6465d"/><rect x="607" y="256" width="1" height="1" fill="#f6465d"/><rect x="610" y="256" width="1" height="1" fill="#f6465d"/><rect x="613" y="256" width="1" height="1" fill="#f6465d"/><rect x="616" y="256" width="1" height="1" fill="#f6465d"/><rect x="619" y="256" width="1" height="1" fill="#f6465d"/><rect x="622" y="256" width="1" height="1" fill="#f6465d"/><rect x="625" y="256" width="1" height="1" fill="#f6465d"/><rect x="628" y="256" width="1" height="1" fill="#f6465d"/><rect x="631" y="256" width="1" height="1" fill="#f6465d"/><rect x="634" y="256" width="1" height="1" fill="#f6465d"/><rect x="637" y="256" width="1" height="1" fill="#f6465d"/><rect x="640" y="256" width="1" height="1" fill="#f6465d"/><rect x="643" y="256" width="1" height="1" fill="#f6465d"/><rect x="646" y="256" width="1" height="1" fill="#f6465d"/><rect x="649" y="256" width="1" height="1" fill="#f6465d"/><rect x="652" y="256" width="1" height="1" fill="#f6465d"/><rect x="655" y="256" width="1" height="1" fill="#f6465d"/><rect x="658" y="256" width="1" height="1" fill="#f6465d"/><rect x="661" y="256" width="1" height="1" fill="#f6465d"/><rect x="664" y="256" width="1" height="1" fill="#f6465d"/><rect x="667" y="256" width="1" height="1" fill="#f6465d"/><rect x="670" y="256" width="1" height="1" fill="#f6465d"/><rect x="673" y="256" width="1" height="1" fill="#f6465d"/><rect x="676" y="256" width="1" height="1" fill="#f6465d"/><rect x="679" y="256" width="1" height="1" fill="#f6465d"/><rect x="682" y="256" width="1" height="1" fill="#f6465d"/><rect x="685" y="256" width="1" height="1" fill="#f6465d"/><rect x="688" y="256" width="1" height="1" fill="#f6465d"/><rect x="691" y="256" width="1" height="1" fill="#f6465d"/><rect x="694" y="256" width="1" height="1" fill="#f6465d"/><rect x="697" y="256" width="1" height="1" fill="#f6465d"/><rect x="700" y="256" width="1" height="1" fill="#f6465d"/><rect x="703" y="256" width="1" height="1" fill="#f6465d"/><rect x="706" y="256" width="1" height="1" fill="#f6465d"/><rect x="709" y="256" width="1" height="1" fill="#f6465d"/><rect x="712" y="256" width="1" height="1" fill="#f6465d"/><rect x="715" y="256" width="1" height="1" fill="#f6465d"/><rect x="718" y="256" width="1" height="1" fill="#f6465d"/><rect x="721" y="256" width="1" height="1" fill="#f6465d"/><rect x="724" y="256" width="1" height="1" fill="#f6465d"/><rect x="727" y="256" width="1" height="1" fill="#f6465d"/><rect x="730" y="256" width="1" height="1" fill="#f6465d"/><rect x="733" y="256" width="1" height="1" fill="#f6465d"/><rect x="736" y="256" width="1" height="1" fill="#f6465d"/><rect x="739" y="256" width="1" height="1" fill="#f6465d"/><rect x="742" y="256" width="1" height="1" fill="#f6465d"/><rect x="745" y="256" width="1" height="1" fill="#f6465d"/><rect x="748" y="256" width="1" height="1" fill="#f6465d"/><rect x="751" y="256" width="1" height="1" fill="#f6465d"/><rect x="754" y="256" width="1" height="1" fill="#f6465d"/><rect x="757" y="256" width="1" height="1" fill="#f6465d"/><rect x="760" y="256" width="1" height="1" fill="#f6465d"/><rect x="763" y="256" width="1" height="1" fill="#f6465d"/><rect x="766" y="256" width="1" height="1" fill="#f6465d"/><rect x="769" y="256" width="1" height="1" fill="#f6465d"/><rect x="772" y="256" width="1" height="1" fill="#f6465d"/><rect x="775" y="256" width="1" height="1" fill="#f6465d"/><rect x="778" y="256" width="1" height="1" fill="#f6465d"/><rect x="781" y="256" width="1" height="1" fill="#f6465d"/><rect x="784" y="256" width="1" height="1" fill="#f6465d"/><rect x="787" y="256" width="1" height="1" fill="#f6465d"/><rect x="790" y="256" width="1" height="1" fill="#f6465d"/><rect x="793" y="256" width="1" height="1" fill="#f6465d"/><rect x="796" y="256" width="1" height="1" fill="#f6465d"/><rect x="799" y="256" width="1" height="1" fill="#f6465d"/><rect x="802" y="256" width="1" height="1" fill="#f6465d"/><rect x="805" y="256" width="1" height="1" fill="#f6465d"/><rect x="808" y="256" width="1" height="1" fill="#f6465d"/><rect x="811" y="256" width="1" height="1" fill="#f6465d"/><rect x="814" y="256" width="1" height="1" fill="#f6465d"/><rect x="817" y="256" width="1" height="1" fill="#f6465d"/><rect x="820" y="256" width="1" height="1" fill="#f6465d"/><rect x="823" y="256" width="1" height="1" fill="#f6465d"/><rect x="826" y="256" width="1" height="1" fill="#f6465d"/><rect x="829" y="256" width="1" height="1" fill="#f6465d"/><rect x="832" y="256" width="1" height="1" fill="#f6465d"/><rect x="835" y="256" width="1" height="1" fill="#f6465d"/><rect x="838" y="256" width="1" height="1" fill="#f6465d"/><rect x="841" y="256" width="1" height="1" fill="#f6465d"/><rect x="844" y="256" width="1" height="1" fill="#f6465d"/><rect x="847" y="256" width="1" height="1" fill="#f6465d"/><rect x="850" y="256" width="1" height="1" fill="#f6465d"/><rect x="853" y="256" width="1" height="1" fill="#f6465d"/><rect x="856" y="256" width="1" height="1" fill="#f6465d"/><rect x="859" y="256" width="1" height="1" fill="#f6465d"/><rect x="862" y="256" width="1" height="1" fill="#f6465d"/><rect x="865" y="256" width="1" height="1" fill="#f6465d"/><rect x="868" y="256" width="1" height="1" fill="#f6465d"/><rect x="871" y="256" width="1" height="1" fill="#f6465d"/><rect x="874" y="256" width="1" height="1" fill="#f6465d"/><rect x="877" y="256" width="1" height="1" fill="#f6465d"/><rect x="880" y="256" width="1" height="1" fill="#f6465d"/><rect x="883" y="256" width="1" height="1" fill="#f6465d"/><rect x="886" y="256" width="1" height="1" fill="#f6465d"/><rect x="889" y="256" width="1" height="1" fill="#f6465d"/><rect x="892" y="256" width="1" height="1" fill="#f6465d"/><rect x="895" y="256" width="1" height="1" fill="#f6465d"/><rect x="898" y="256" width="1" height="1" fill="#f6465d"/><rect x="901" y="256" width="1" height="1" fill="#f6465d"/><rect x="904" y="256" width="1" height="1" fill="#f6465d"/><rect x="907" y="256" width="1" height="1" fill="#f6465d"/><rect x="910" y="256" width="1" height="1" fill="#f6465d"/><rect x="913" y="256" width="1" height="1" fill="#f6465d"/><rect x="916" y="256" width="1" height="1" fill="#f6465d"/><rect x="919" y="256" width="1" height="1" fill="#f6465d"/><rect x="922" y="256" width="1" height="1" fill="#f6465d"/><rect x="925" y="256" width="1" height="1" fill="#f6465d"/><rect x="928" y="256" width="1" height="1" fill="#f6465d"/><rect x="931" y="256" width="1" height="1" fill="#f6465d"/><rect x="934" y="256" width="1" height="1" fill="#f6465d"/><rect x="937" y="256" width="1" height="1" fill="#f6465d"/><rect x="940" y="256" width="1" height="1" fill="#f6465d"/><rect x="943" y="256" width="1" height="1" fill="#f6465d"/><rect x="946" y="256" width="1" height="1" fill="#f6465d"/><rect x="949" y="256" width="1" height="1" fill="#f6465d"/><rect x="952" y="256" width="1" height="1" fill="#f6465d"/><rect x="955" y="256" width="1" height="1" fill="#f6465d"/><rect x="958" y="256" width="1" height="1" fill="#f6465d"/><rect x="961" y="256" width="1" height="1" fill="#f6465d"/><rect x="964" y="256" width="1" height="1" fill="#f6465d"/><rect x="967" y="256" width="1" height="1" fill="#f6465d"/><rect x="970" y="256" width="1" height="1" fill="#f6465d"/><rect x="973" y="256" width="1" height="1" fill="#f6465d"/><rect x="976" y="256" width="1" height="1" fill="#f6465d"/><rect x="979" y="256" width="1" height="1" fill="#f6465d"/><rect x="982" y="256" width="1" height="1" fill="#f6465d"/><rect x="985" y="256" width="1" height="1" fill="#f6465d"/><rect x="988" y="256" width="1" height="1" fill="#f6465d"/><rect x="991" y="256" width="1" height="1" fill="#f6465d"/><rect x="994" y="256" width="1" height="1" fill="#f6465d"/><rect x="997" y="256" width="1" height="1" fill="#f6465d"/><rect x="1000" y="256" width="1" height="1" fill="#f6465d"/><rect x="1003" y="256" width="1" height="1" fill="#f6465d"/><rect x="1006" y="256" width="1" height="1" fill="#f6465d"/><rect x="1009" y="256" width="1" height="1" fill="#f6465d"/><rect x="1012" y="256" width="1" height="1" fill="#f6465d"/><rect x="1015" y="256" width="1" height="1" fill="#f6465d"/><rect x="1018" y="256" width="1" height="1" fill="#f6465d"/><rect x="1021" y="256" width="1" height="1" fill="#f6465d"/><rect x="1024" y="256" width="1" height="1" fill="#f6465d"/>
<rect x="55" y="158" width="5" height="1" fill="#a9adb6"/><rect x="66" y="158" width="5" height="1" fill="#a9adb6"/><rect x="77" y="158" width="5" height="1" fill="#a9adb6"/><rect x="88" y="158" width="5" height="1" fill="#a9adb6"/><rect x="99" y="158" width="5" height="1" fill="#a9adb6"/><rect x="110" y="158" width="5" height="1" fill="#a9adb6"/><rect x="121" y="158" width="5" height="1" fill="#a9adb6"/><rect x="132" y="158" width="5" height="1" fill="#a9adb6"/><rect x="143" y="158" width="5" height="1" fill="#a9adb6"/><rect x="154" y="158" width="5" height="1" fill="#a9adb6"/><rect x="165" y="158" width="5" height="1" fill="#a9adb6"/><rect x="176" y="158" width="5" height="1" fill="#a9adb6"/><rect x="187" y="158" width="5" height="1" fill="#a9adb6"/><rect x="198" y="158" width="5" height="1" fill="#a9adb6"/><rect x="209" y="158" width="5" height="1" fill="#a9adb6"/><rect x="220" y="158" width="5" height="1" fill="#a9adb6"/><rect x="231" y="158" width="5" height="1" fill="#a9adb6"/><rect x="242" y="158" width="5" height="1" fill="#a9adb6"/><rect x="253" y="158" width="5" height="1" fill="#a9adb6"/><rect x="264" y="158" width="5" height="1" fill="#a9adb6"/><rect x="275" y="158" width="5" height="1" fill="#a9adb6"/><rect x="286" y="158" width="5" height="1" fill="#a9adb6"/><rect x="297" y="158" width="5" height="1" fill="#a9adb6"/><rect x="308" y="158" width="5" height="1" fill="#a9adb6"/><rect x="319" y="158" width="5" height="1" fill="#a9adb6"/><rect x="330" y="158" width="5" height="1" fill="#a9adb6"/><rect x="341" y="158" width="5" height="1" fill="#a9adb6"/><rect x="352" y="158" width="5" height="1" fill="#a9adb6"/><rect x="363" y="158" width="5" height="1" fill="#a9adb6"/><rect x="374" y="158" width="5" height="1" fill="#a9adb6"/><rect x="385" y="158" width="5" height="1" fill="#a9adb6"/><rect x="396" y="158" width="5" height="1" fill="#a9adb6"/><rect x="407" y="158" width="5" height="1" fill="#a9adb6"/><rect x="418" y="158" width="5" height="1" fill="#a9adb6"/><rect x="429" y="158" width="5" height="1" fill="#a9adb6"/><rect x="440" y="158" width="5" height="1" fill="#a9adb6"/><rect x="451" y="158" width="5" height="1" fill="#a9adb6"/><rect x="462" y="158" width="5" height="1" fill="#a9adb6"/><rect x="473" y="158" width="5" height="1" fill="#a9adb6"/><rect x="484" y="158" width="5" height="1" fill="#a9adb6"/><rect x="495" y="158" width="5" height="1" fill="#a9adb6"/><rect x="506" y="158" width="5" height="1" fill="#a9adb6"/><rect x="517" y="158" width="5" height="1" fill="#a9adb6"/><rect x="528" y="158" width="5" height="1" fill="#a9adb6"/><rect x="539" y="158" width="5" height="1" fill="#a9adb6"/><rect x="550" y="158" width="5" height="1" fill="#a9adb6"/><rect x="561" y="158" width="5" height="1" fill="#a9adb6"/><rect x="572" y="158" width="5" height="1" fill="#a9adb6"/><rect x="583" y="158" width="5" height="1" fill="#a9adb6"/><rect x="594" y="158" width="5" height="1" fill="#a9adb6"/><rect x="605" y="158" width="5" height="1" fill="#a9adb6"/><rect x="616" y="158" width="5" height="1" fill="#a9adb6"/><rect x="627" y="158" width="5" height="1" fill="#a9adb6"/><rect x="638" y="158" width="5" height="1" fill="#a9adb6"/><rect x="649" y="158" width="5" height="1" fill="#a9adb6"/><rect x="660" y="158" width="5" height="1" fill="#a9adb6"/><rect x="671" y="158" width="5" height="1" fill="#a9adb6"/><rect x="682" y="158" width="5" height="1" fill="#a9adb6"/><rect x="693" y="158" width="5" height="1" fill="#a9adb6"/><rect x="704" y="158" width="5" height="1" fill="#a9adb6"/><rect x="715" y="158" width="5" height="1" fill="#a9adb6"/><rect x="726" y="158" width="5" height="1" fill="#a9adb6"/><rect x="737" y="158" width="5" height="1" fill="#a9adb6"/><rect x="748" y="158" width="5" height="1" fill="#a9adb6"/><rect x="759" y="158" width="5" height="1" fill="#a9adb6"/><rect x="770" y="158" width="5" height="1" fill="#a9adb6"/><rect x="781" y="158" width="5" height="1" fill="#a9adb6"/><rect x="792" y="158" width="5" height="1" fill="#a9adb6"/><rect x="803" y="158" width="5" height="1" fill="#a9adb6"/><rect x="814" y="158" width="5" height="1" fill="#a9adb6"/><rect x="825" y="158" width="5" height="1" fill="#a9adb6"/><rect x="836" y="158" width="5" height="1" fill="#a9adb6"/><rect x="847" y="158" width="5" height="1" fill="#a9adb6"/><rect x="858" y="158" width="5" height="1" fill="#a9adb6"/><rect x="869" y="158" width="5" height="1" fill="#a9adb6"/><rect x="880" y="158" width="5" height="1" fill="#a9adb6"/><rect x="891" y="158" width="5" height="1" fill="#a9adb6"/><rect x="902" y="158" width="5" height="1" fill="#a9adb6"/><rect x="913" y="158" width="5" height="1" fill="#a9adb6"/><rect x="924" y="158" width="5" height="1" fill="#a9adb6"/><rect x="935" y="158" width="5" height="1" fill="#a9adb6"/><rect x="946" y="158" width="5" height="1" fill="#a9adb6"/><rect x="957" y="158" width="5" height="1" fill="#a9adb6"/><rect x="968" y="158" width="5" height="1" fill="#a9adb6"/><rect x="979" y="158" width="5" height="1" fill="#a9adb6"/><rect x="990" y="158" width="5" height="1" fill="#a9adb6"/><rect x="1001" y="158" width="5" height="1" fill="#a9adb6"/>
<rect x="768" y="42" width="1" height="5" fill="#a9adb6"/><rect x="768" y="53" width="1" height="5" fill="#a9adb6"/><rect x="768" y="64" width="1" height="5" fill="#a9adb6"/><rect x="768" y="75" width="1" height="5" fill="#a9adb6"/><rect x="768" y="86" width="1" height="5" fill="#a9adb6"/><rect x="768" y="97" width="1" height="5" fill="#a9adb6"/><rect x="768" y="108" width="1" height="5" fill="#a9adb6"/><rect x="768" y="119" width="1" height="5" fill="#a9adb6"/><rect x="768" y="130" width="1" height="5" fill="#a9adb6"/><rect x="768" y="141" width="1" height="5" fill="#a9adb6"/><rect x="768" y="152" width="1" height="5" fill="#a9adb6"/><rect x="768" y="163" width="1" height="5" fill="#a9adb6"/><rect x="768" y="174" width="1" height="5" fill="#a9adb6"/><rect x="768" y="185" width="1" height="5" fill="#a9adb6"/><rect x="768" y="196" width="1" height="5" fill="#a9adb6"/><rect x="768" y="207" width="1" height="5" fill="#a9adb6"/><rect x="768" y="218" width="1" height="5" fill="#a9adb6"/><rect x="768" y="229" width="1" height="5" fill="#a9adb6"/><rect x="768" y="240" width="1" height="5" fill="#a9adb6"/><rect x="768" y="251" width="1" height="5" fill="#a9adb6"/><rect x="768" y="262" width="1" height="5" fill="#a9adb6"/><rect x="768" y="273" width="1" height="5" fill="#a9adb6"/><rect x="768" y="284" width="1" height="5" fill="#a9adb6"/><rect x="768" y="295" width="1" height="5" fill="#a9adb6"/><rect x="768" y="306" width="1" height="5" fill="#a9adb6"/><rect x="768" y="317" width="1" height="5" fill="#a9adb6"/><rect x="768" y="328" width="1" height="5" fill="#a9adb6"/><rect x="768" y="339" width="1" height="5" fill="#a9adb6"/><rect x="768" y="350" width="1" height="5" fill="#a9adb6"/><rect x="768" y="361" width="1" height="5" fill="#a9adb6"/><rect x="768" y="372" width="1" height="5" fill="#a9adb6"/><rect x="768" y="383" width="1" height="5" fill="#a9adb6"/><rect x="768" y="394" width="1" height="5" fill="#a9adb6"/><rect x="768" y="405" width="1" height="5" fill="#a9adb6"/><rect x="768" y="416" width="1" height="5" fill="#a9adb6"/>
</svg>

<!-- legend -->
<div class="abs" style="left:59px;top:46px;width:592px;height:20px;background:rgba(27,28,33,0.6)"></div>
<div class="tt" style="left:64.5px;transform:scaleX(0.893);transform-origin:0 0">XRPUSDT</div>
<div class="tt" style="left:135.6px">Latest</div>
<div class="tt" style="left:185.7px;letter-spacing:-0.45px">Data</div>
<div class="tt" style="left:222.6px">·</div>
<div class="tt" style="left:230.4px">4h</div>
<div class="tt" style="left:253px">·</div>
<div class="tt" style="left:260.3px;letter-spacing:-0.2px">Binance</div>
<div class="lg" style="left:325.5px;color:#7d8394">O</div>
<div class="lg" style="left:338px;color:#f6465d">1.3559</div>
<div class="lg" style="left:382.5px;color:#7d8394">H</div>
<div class="lg" style="left:394px;color:#f6465d">1.3570</div>
<div class="lg" style="left:438px;color:#7d8394">L</div>
<div class="lg" style="left:447.5px;color:#f6465d">1.3488</div>
<div class="lg" style="left:492.5px;color:#7d8394">C</div>
<div class="lg" style="left:501.5px;color:#f6465d">1.3506</div>
<div class="lg" style="left:546.5px;color:#f6465d;letter-spacing:0">-0.0053</div>
<div class="lg" style="left:594px;color:#f6465d;letter-spacing:-0.4px">(−0.39%)</div>

<!-- chart buttons -->
<div class="abs" style="left:969px;top:46px;width:24px;height:24px;border-radius:4px;background:#111113;border:1px solid #3b3b3b"></div>
<div class="abs" style="left:997px;top:46px;width:24px;height:24px;border-radius:5px;background:#f0f0f0"></div>
<svg class="abs" style="left:960px;top:40px" width="70" height="35">
 <path d="M21.3 13.8 V23.5 M17.1 19.3 L21.3 23.5 L25.5 19.3" fill="none" stroke="#e0e0e0" stroke-width="1.1"/>
 <path d="M44.6 16.9 V16.3 Q44.6 13.8 47.1 13.8 H52.2 Q54.7 13.8 54.7 16.3 V16.9 M44.6 20.3 V21 Q44.6 23.5 47.1 23.5 H52.2 Q54.7 23.5 54.7 21 V20.3" fill="none" stroke="#111" stroke-width="1.3"/>
</svg>

<!-- TV logo -->
<svg class="abs" style="left:60px;top:365px" width="50" height="46">
 <circle cx="23.6" cy="22.8" r="16.5" fill="#121214" stroke="#454547" stroke-width="1.1"/>
 <path d="M12.8 18.4 H22 V29 H17.5 V21.4 H12.8 Z" fill="#fff"/>
 <circle cx="25.2" cy="19.9" r="1.7" fill="#fff"/>
 <path d="M28.9 18.4 H34.1 L30 29 H24.8 Z" fill="#fff"/>
</svg>

<!-- price axis -->
<div class="pl" style="top:57px">1.4800</div><div class="pl" style="top:89px">1.4600</div><div class="pl" style="top:122px">1.4400</div><div class="pl" style="top:188px">1.4000</div><div class="pl" style="top:220px">1.3800</div><div class="pl" style="top:286px">1.3399</div><div class="pl" style="top:318px">1.3199</div><div class="pl" style="top:351px">1.2999</div><div class="pl" style="top:384px">1.2799</div>
<div class="abs" style="left:1004px;top:148px;width:71px;height:21px;border-radius:2px;background:#404042"></div>
<div class="abs" style="left:1025px;top:148px;width:1px;height:21px;background:#2a2e36"></div>
<svg class="abs" style="left:1004px;top:148px" width="22" height="21"><circle cx="10.3" cy="10.3" r="7.3" fill="none" stroke="#fff" stroke-width="1.1"/><path d="M7.2 10.3 H13.4 M10.3 7.2 V13.4" stroke="#fff" stroke-width="1.2"/></svg>
<div class="pl" style="top:150.5px;color:#f0f0f0">1.4229</div>
<div class="abs" style="left:1026px;top:248px;width:49px;height:17px;border-radius:0 2px 2px 0;background:#f6465d"></div>
<div class="pl" style="top:248.5px;color:#fff">1.3632</div>
<div class="abs" style="left:1026px;top:277px;width:49px;height:17px;border-radius:0 2px 2px 0;background:#2a66f5"></div>
<div class="pl" style="top:277.5px;color:#fff">1.3450</div>

<!-- time axis -->
<div class="tl" style="left:90px">23</div><div class="tl" style="left:158px">25</div><div class="tl" style="left:226px">27</div><div class="tl" style="left:294px">29</div><div class="tl b" style="left:397px">Apr</div><div class="tl" style="left:465px">3</div><div class="tl" style="left:533px">5</div><div class="tl" style="left:601px">7</div><div class="tl" style="left:669px">9</div><div class="tl" style="left:809.5px">3</div><div class="tl" style="left:874px">15</div><div class="tl" style="left:943px">17</div>
<div class="abs" style="left:703px;top:417px;width:131px;height:24px;border-radius:0 0 3px 3px;background:#404042"></div>
<div class="abs" style="left:711px;top:423px;font-size:11px;letter-spacing:0.5px;line-height:16px;color:#eee;white-space:pre">Sat 11 Apr '26</div>
<div class="abs" style="left:794px;top:423px;font-size:11px;letter-spacing:0.5px;line-height:16px;color:#eee;white-space:pre">01:00</div>
<svg class="abs" style="left:1040px;top:420px" width="30" height="24"><path d="M7.6 11.5 L10.7 5.6 H18.6 L21.6 11.5 L18.6 17.3 H10.7 Z" fill="none" stroke="#dcdde0" stroke-width="1.2"/><circle cx="14.4" cy="11.5" r="2.2" fill="none" stroke="#dcdde0" stroke-width="1.1"/></svg>

<!-- bottom bar -->
<svg class="abs" style="left:70px;top:453px" width="24" height="22">
 <path d="M2.8 13 V6.3 Q2.8 4.5 4.6 4.5 H18.9 Q20.7 4.5 20.7 6.3 V17.3 Q20.7 19.1 18.9 19.1 H12.2 M2.8 8.3 H20.7 M7.9 2.4 V5 M15.9 2.4 V5 M2.2 16.8 H9.8 M6.9 13.9 L9.8 16.8 L6.9 19.7" fill="none" stroke="#d1d4dc" stroke-width="1.1"/>
</svg>
<div class="bt" style="left:866.3px">22:57:39</div>
<div class="bt" style="left:923.3px;letter-spacing:-0.95px">UTC+1</div>
<div class="abs" style="left:975px;top:455px;width:1px;height:21px;background:#3a3b3e"></div>
<div class="abs" style="left:987px;top:457px;font-size:14px;line-height:16px;color:#dde1ea">%</div>
<div class="abs" style="left:1012px;top:457px;font-size:14px;line-height:16px;color:#dde1ea">log</div>
<div class="abs" style="left:1044px;top:457px;font-size:14px;line-height:16px;color:#dde1ea">auto</div>

<div class="abs" style="left:0;top:484px;width:1080px;height:4px;background:#0d0e10"></div>
</body></html>
